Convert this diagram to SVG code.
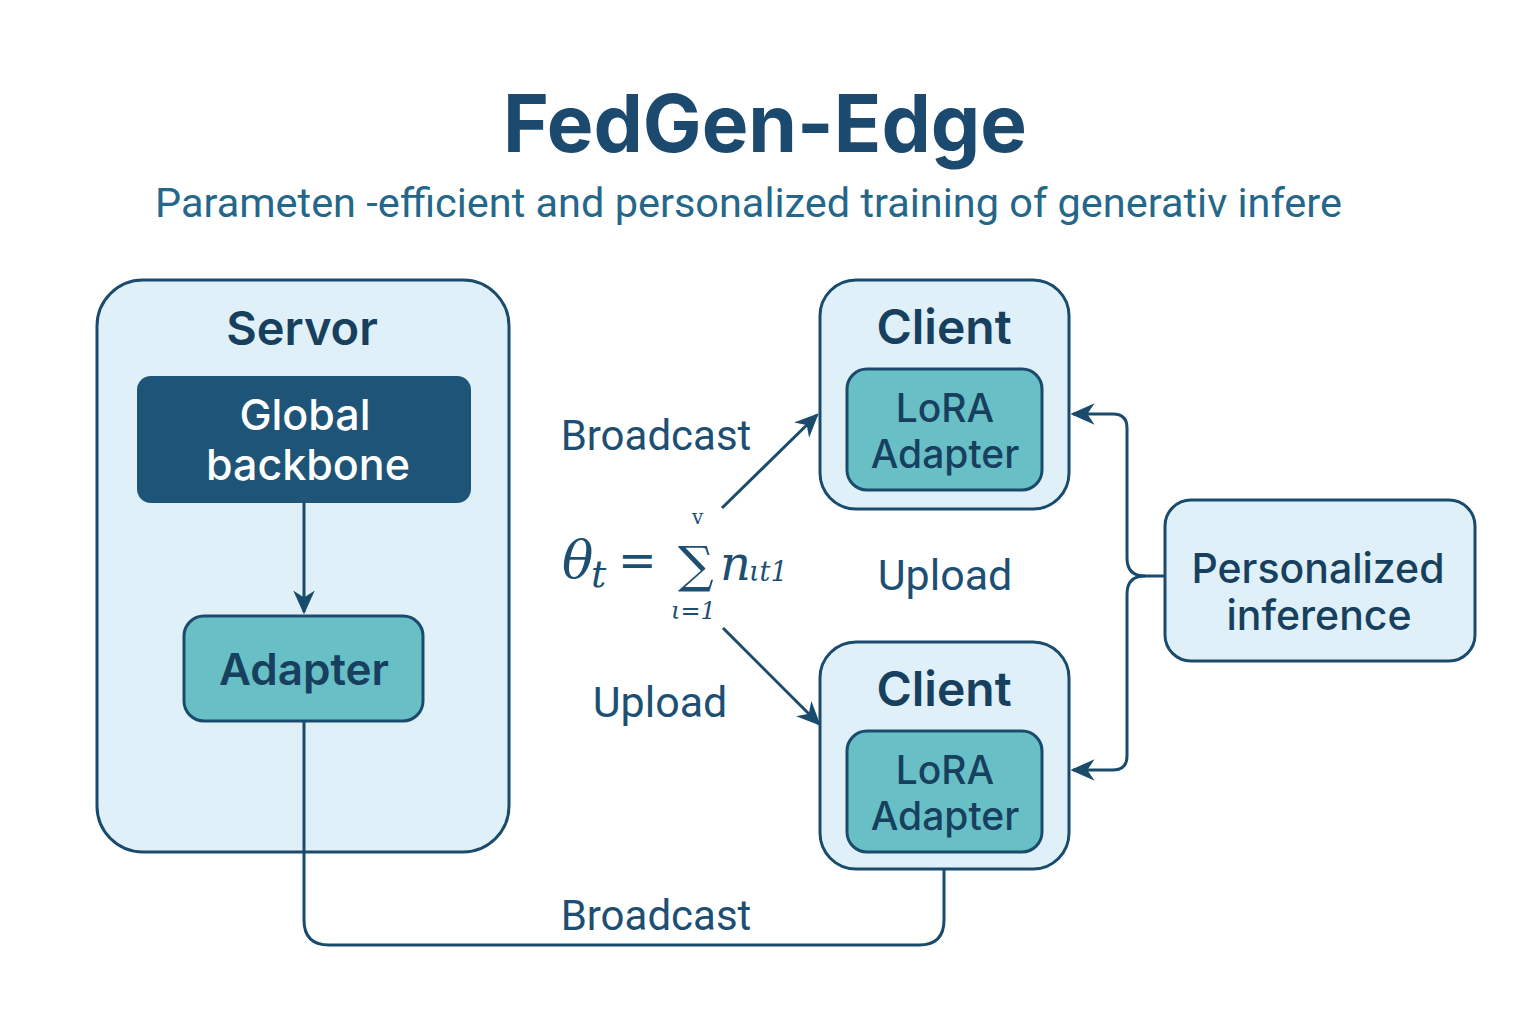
<svg xmlns="http://www.w3.org/2000/svg" width="1536" height="1024" viewBox="0 0 1536 1024">
<defs>
<style>
.title{font-family:Inter,"Open Sans","Liberation Sans",sans-serif;font-weight:700;fill:#1b4a6e}
.sub{font-family:Roboto,"Liberation Sans",sans-serif;fill:#24678a}
.lbl{font-family:Inter,"Open Sans","Liberation Sans",sans-serif;font-weight:600;fill:#173f5e;text-anchor:middle}
.edge{font-family:Roboto,"Liberation Sans",sans-serif;fill:#1d4f73;text-anchor:middle}
.math{font-family:"DejaVu Serif","Liberation Serif",serif;font-style:italic;fill:#1d4f73}
.outer{fill:#dff0f8;stroke:#1a4b6c;stroke-width:3}
.teal{fill:#68c0c6;stroke:#1a4b6c;stroke-width:3}
.con{fill:none;stroke:#1a4b6c;stroke-width:3}
</style>
<marker id="ah" viewBox="0 0 20 20" refX="18" refY="10" markerWidth="8" markerHeight="8" markerUnits="strokeWidth" orient="auto">
<path d="M0,1 L20,10 L0,19 L6,10 Z" fill="#1a4b6c"/>
</marker>
</defs>
<rect width="1536" height="1024" fill="#ffffff"/>
<text class="title" x="765" y="152" font-size="80" text-anchor="middle" textLength="524" lengthAdjust="spacingAndGlyphs">FedGen-Edge</text>
<text class="sub" x="155" y="217" font-size="40" textLength="1187" lengthAdjust="spacingAndGlyphs">Parameten -efficient and personalized training of generativ infere</text>

<g id="server">
<rect class="outer" x="97" y="280" width="412" height="572" rx="46"/>
<text class="lbl" x="302" y="345" font-size="47">Servor</text>
</g>
<g id="global-backbone">
<rect x="137" y="376" width="334" height="127" rx="14" fill="#1d5478"/>
<text class="lbl" x="305" y="430" font-size="43" style="fill:#ffffff;font-weight:500">Global</text>
<text class="lbl" x="308" y="480" font-size="43" style="fill:#ffffff;font-weight:500">backbone</text>
</g>
<g id="server-adapter">
<rect class="teal" x="184" y="616" width="239" height="105" rx="20"/>
<text class="lbl" x="304" y="685" font-size="44">Adapter</text>
</g>
<g id="client-top">
<rect class="outer" x="820" y="280" width="249" height="229" rx="36"/>
<text class="lbl" x="944" y="344" font-size="48">Client</text>
<rect class="teal" x="847" y="369" width="195" height="121" rx="20"/>
<text class="lbl" x="945" y="422" font-size="39" style="font-weight:500">LoRA</text>
<text class="lbl" x="945" y="468" font-size="39" style="font-weight:500">Adapter</text>
</g>
<g id="client-bottom">
<rect class="outer" x="820" y="642" width="249" height="227" rx="36"/>
<text class="lbl" x="944" y="706" font-size="48">Client</text>
<rect class="teal" x="847" y="731" width="195" height="121" rx="20"/>
<text class="lbl" x="945" y="784" font-size="39" style="font-weight:500">LoRA</text>
<text class="lbl" x="945" y="830" font-size="39" style="font-weight:500">Adapter</text>
</g>
<g id="personalized-inference">
<rect class="outer" x="1165" y="500" width="310" height="161" rx="26"/>
<text class="lbl" x="1318" y="583" font-size="41" style="font-weight:500">Personalized</text>
<text class="lbl" x="1319" y="630" font-size="41" style="font-weight:500">inference</text>
</g>

<g id="connectors">
<path class="con" d="M304,503 V612" marker-end="url(#ah)"/>
<path class="con" d="M304,721 V920 Q304,945 329,945 H919 Q944,945 944,920 V870"/>
<path class="con" d="M722,508 L817,415" marker-end="url(#ah)"/>
<path class="con" d="M723,628 L819,724" marker-end="url(#ah)"/>
<path class="con" d="M1165,576 H1145 Q1127,576 1127,558 V428 Q1127,414 1113,414 H1073" marker-end="url(#ah)"/>
<path class="con" d="M1145,576 Q1127,576 1127,594 V756 Q1127,770 1113,770 H1073" marker-end="url(#ah)"/>
</g>

<g id="labels">
<text class="edge" x="656" y="450" font-size="42">Broadcast</text>
<text class="edge" x="945" y="590" font-size="43">Upload</text>
<text class="edge" x="660" y="717" font-size="43">Upload</text>
<text class="edge" x="656" y="930" font-size="42">Broadcast</text>
</g>

<g id="formula">
<text class="math" x="562" y="578" font-size="52">θ</text>
<text class="math" x="591" y="587" font-size="38">t</text>
<text class="math" x="618" y="576" font-size="46" style="font-style:normal">=</text>
<text class="math" x="678" y="582" font-size="50" style="font-style:normal">∑</text>
<text class="math" x="692" y="524" font-size="20" style="font-style:normal">v</text>
<text class="math" x="671" y="619" font-size="24">ι=1</text>
<text class="math" x="720" y="580" font-size="48">n</text>
<text class="math" x="749" y="581" font-size="27">ιt1</text>
</g>
</svg>
